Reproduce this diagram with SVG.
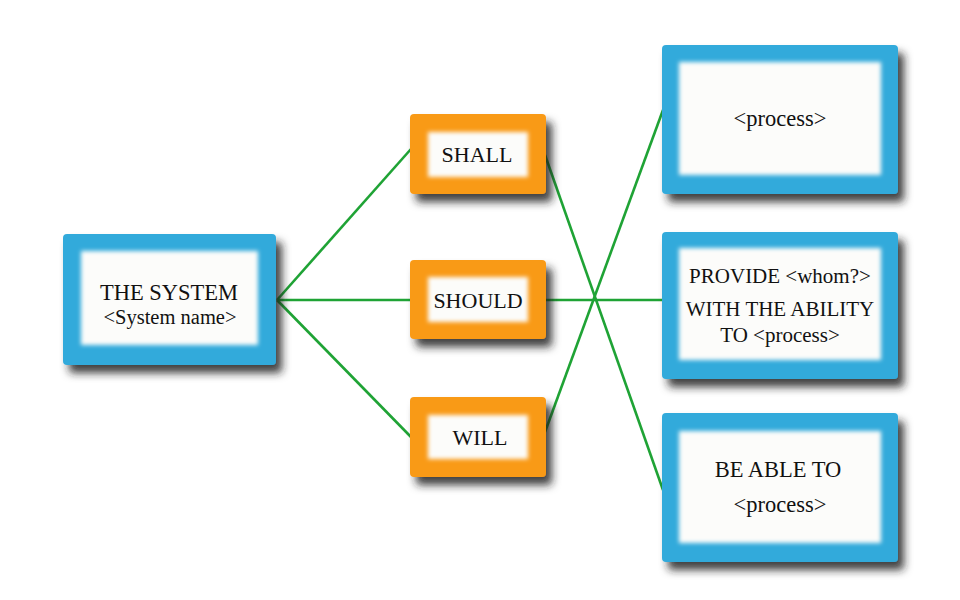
<svg xmlns="http://www.w3.org/2000/svg" width="960" height="600" viewBox="0 0 960 600">
<defs>
<filter id="shadow" x="-20%" y="-20%" width="150%" height="160%">
<feDropShadow dx="6" dy="8" stdDeviation="4.5" flood-color="#1a1a1a" flood-opacity="0.85"/>
</filter>
<filter id="glow" x="-10%" y="-10%" width="120%" height="120%">
<feGaussianBlur stdDeviation="2.2"/>
</filter>
</defs>
<style>
.blue{fill:#33aadb}
.orange{fill:#f99a17}
.inner{fill:#fcfcfa}
.t{font-family:"Liberation Serif","Times New Roman",serif;fill:#111;text-anchor:middle}
.conn{stroke:#1fa335;stroke-width:2.6;fill:none}
</style>
<rect width="960" height="600" fill="#ffffff"/>
<g id="connectors">
<line class="conn" x1="277" y1="300" x2="411" y2="149"/>
<line class="conn" x1="277" y1="300" x2="411" y2="300"/>
<line class="conn" x1="277" y1="300" x2="411" y2="437"/>
<line class="conn" x1="545" y1="155" x2="663" y2="490"/>
<line class="conn" x1="545" y1="300" x2="663" y2="300"/>
<line class="conn" x1="545" y1="432" x2="663" y2="110"/>
</g>
<g id="system">
<rect class="blue" x="63" y="234" width="213" height="131" rx="4" filter="url(#shadow)"/>
<rect class="inner" x="81" y="251" width="177" height="94" filter="url(#glow)"/>
<text class="t" x="169" y="300" font-size="22.5">THE SYSTEM</text>
<text class="t" x="170" y="324" font-size="20.5">&lt;System name&gt;</text>
</g>
<g id="shall">
<rect class="orange" x="410" y="114" width="136" height="80" rx="4" filter="url(#shadow)"/>
<rect class="inner" x="428" y="132" width="100" height="45" filter="url(#glow)"/>
<text class="t" x="477" y="162" font-size="22">SHALL</text>
</g>
<g id="should">
<rect class="orange" x="410" y="260" width="136" height="79" rx="4" filter="url(#shadow)"/>
<rect class="inner" x="428" y="277" width="100" height="45" filter="url(#glow)"/>
<text class="t" x="478" y="308" font-size="22">SHOULD</text>
</g>
<g id="will">
<rect class="orange" x="410" y="397" width="136" height="80" rx="4" filter="url(#shadow)"/>
<rect class="inner" x="428" y="415" width="100" height="44" filter="url(#glow)"/>
<text class="t" x="480" y="445" font-size="22">WILL</text>
</g>
<g id="process">
<rect class="blue" x="662" y="45" width="236" height="149" rx="4" filter="url(#shadow)"/>
<rect class="inner" x="679" y="62" width="202" height="113" filter="url(#glow)"/>
<text class="t" x="780" y="126" font-size="22.5">&lt;process&gt;</text>
</g>
<g id="provide">
<rect class="blue" x="662" y="232" width="236" height="147" rx="4" filter="url(#shadow)"/>
<rect class="inner" x="679" y="248" width="202" height="112" filter="url(#glow)"/>
<text class="t" x="780" y="283" font-size="21">PROVIDE &lt;whom?&gt;</text>
<text class="t" x="780" y="316" font-size="21">WITH THE ABILITY</text>
<text class="t" x="780" y="342" font-size="21">TO &lt;process&gt;</text>
</g>
<g id="ableto">
<rect class="blue" x="662" y="413" width="236" height="149" rx="4" filter="url(#shadow)"/>
<rect class="inner" x="679" y="431" width="202" height="112" filter="url(#glow)"/>
<text class="t" x="778" y="477" font-size="22.5">BE ABLE TO</text>
<text class="t" x="780" y="512" font-size="22.5">&lt;process&gt;</text>
</g>
</svg>
